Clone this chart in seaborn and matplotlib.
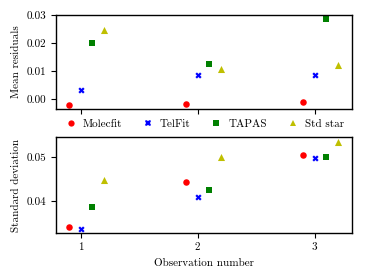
import numpy as np
import pandas as pd
import matplotlib
matplotlib.use("Agg")
import matplotlib.pyplot as plt
import seaborn as sns
from matplotlib.lines import Line2D

observations = [1, 2, 3]
methods = ["Molecfit", "TelFit", "TAPAS", "Std star"]
offsets = [-0.1, 0.0, 0.1, 0.2]
colors = ["#ff0000", "#0000ff", "#008000", "#bfbf00"]
markers = ["o", "X", "s", "^"]

mean_molecfit = [-0.0021, -0.0019, -0.0011]
mean_telfit = [0.0032, 0.0086, 0.0086]
mean_tapas = [0.0201, 0.0126, 0.0287]
mean_std = [0.0247, 0.0107, 0.0124]

std_molecfit = [0.0342, 0.0443, 0.0505]
std_telfit = [0.0338, 0.0410, 0.0497]
std_tapas = [0.0388, 0.0425, 0.0499]
std_std = [0.0448, 0.0500, 0.0534]

mean_vals = [mean_molecfit, mean_telfit, mean_tapas, mean_std]
std_vals = [std_molecfit, std_telfit, std_tapas, std_std]

rows = []
for m, off, mv, sv in zip(methods, offsets, mean_vals, std_vals):
    for o, a, b in zip(observations, mv, sv):
        rows.append({"method": m, "x": o + off, "mean": a, "std": b})
df = pd.DataFrame(rows)

sns.set_theme(style="ticks")
plt.rcParams.update({
    "font.family": "serif",
    "font.serif": ["cmr10"],
    "mathtext.fontset": "cm",
    "axes.formatter.use_mathtext": True,
    "font.size": 8,
    "axes.labelsize": 8,
    "xtick.labelsize": 8,
    "ytick.labelsize": 8,
    "axes.edgecolor": "black",
    "axes.linewidth": 1.0,
    "xtick.color": "black",
    "ytick.color": "black",
    "text.color": "black",
    "axes.labelcolor": "black",
})

fig = plt.figure(figsize=(3.67, 2.78), dpi=100)
ax1 = fig.add_axes([0.153, 0.607, 0.806, 0.340])
ax2 = fig.add_axes([0.153, 0.161, 0.806, 0.345], sharex=ax1)

pal = dict(zip(methods, colors))
mk = dict(zip(methods, markers))
sizes = {"Molecfit": 22, "TelFit": 20, "TAPAS": 20, "Std star": 26}
for m in methods:
    sub = df[df["method"] == m]
    sns.scatterplot(data=sub, x="x", y="mean", ax=ax1, color=pal[m], marker=mk[m],
                    s=sizes[m], linewidth=0, legend=False)
    sns.scatterplot(data=sub, x="x", y="std", ax=ax2, color=pal[m], marker=mk[m],
                    s=sizes[m], linewidth=0, legend=False)

ax1.set_ylabel("Mean residuals")
ax1.set_xlabel("")
ax1.tick_params(labelbottom=False)
ax1.set_yticks([0.0, 0.01, 0.02, 0.03])
ax1.set_yticklabels(["0.00", "0.01", "0.02", "0.03"])
ax2.set_ylabel("Standard deviation")
ax2.set_xlabel("Observation number")
ax2.set_xticks(observations)
ax2.set_xticklabels([str(o) for o in observations])
ax2.set_yticks([0.04, 0.05])
ax2.set_yticklabels(["0.04", "0.05"])
ax1.set_xlim(0.79, 3.32)

for ax in (ax1, ax2):
    ax.tick_params(direction="out", length=3.5, width=0.8)

handles = [Line2D([], [], linestyle="none", marker=mk[m], color=pal[m],
                  markersize=4.5, markeredgewidth=0) for m in methods]
fig.legend(handles, methods, loc="center", bbox_to_anchor=(0.557, 0.553), ncol=4,
           frameon=False, handlelength=1.0, handletextpad=0.6, columnspacing=1.8,
           fontsize=8)

fig.savefig("out.png", dpi=100)
